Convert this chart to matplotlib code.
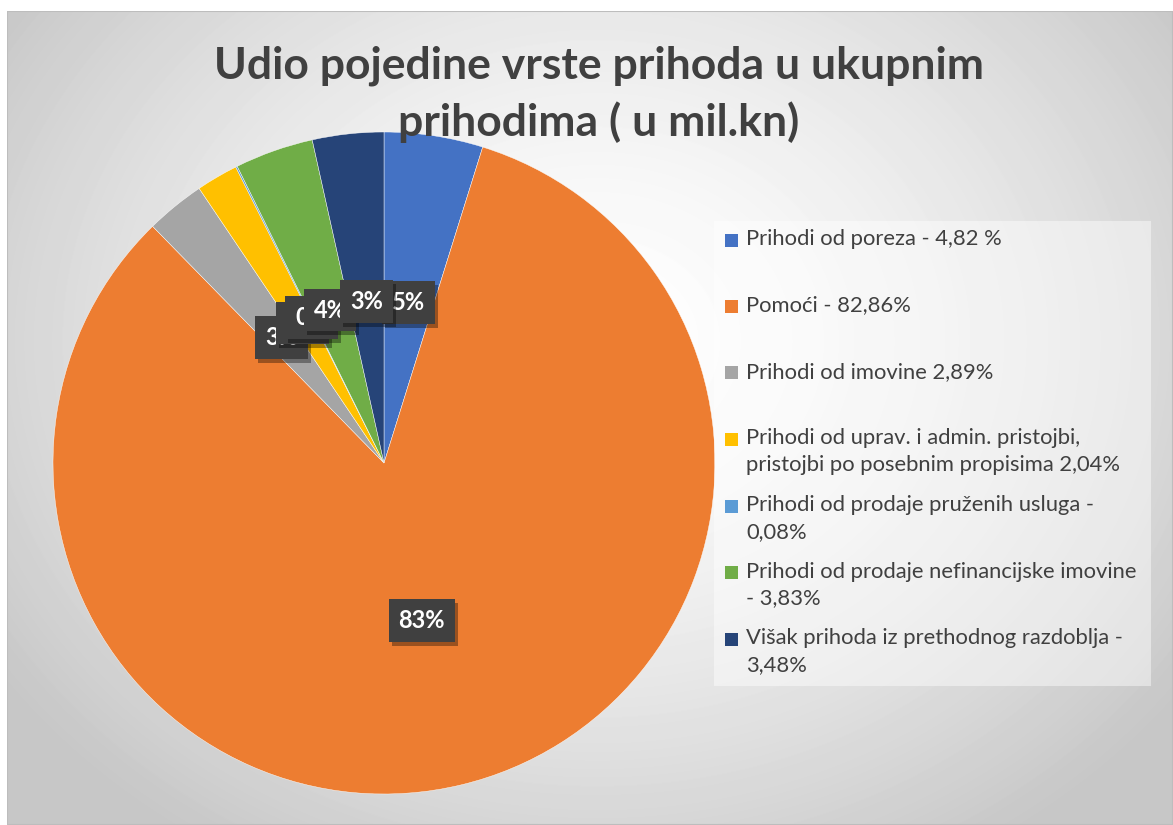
import matplotlib.pyplot as plt
import numpy as np
from matplotlib.patches import Rectangle
from matplotlib.transforms import offset_copy

plt.rcParams['font.family'] = ['Lato', 'DejaVu Sans']

##data
categories = ["Prihodi od poreza - 4,82 %",
              "Pomoći - 82,86%",
              "Prihodi od imovine 2,89%",
              "Prihodi od uprav. i admin. pristojbi,\npristojbi po posebnim propisima 2,04%",
              "Prihodi od prodaje pruženih usluga -\n0,08%",
              "Prihodi od prodaje nefinancijske imovine\n- 3,83%",
              "Višak prihoda iz prethodnog razdoblja -\n3,48%"]
shares = [4.82, 82.86, 2.89, 2.04, 0.08, 3.83, 3.48]
colors = ["#4472C4", "#ED7D31", "#A5A5A5", "#FFC000", "#5B9BD5", "#70AD47", "#264478"]
title = "Udio pojedine vrste prihoda u ukupnim\nprihodima ( u mil.kn)"

W, H = 1173, 825
fig = plt.figure(figsize=(W/100, H/100), dpi=100)
fig.patch.set_facecolor("white")

##----background: radial grey gradient over the chart area----
x0, y0 = 7, 11  ##chart area top-left in pixels
bg = fig.add_axes([x0/W, 0, 1 - x0/W, 1 - y0/H])
yy, xx = np.mgrid[0:H - y0, 0:W - x0]
d = np.sqrt(((xx - 590)/720.0)**2 + ((yy - 330)/600.0)**2)
grad = 1 - 0.22*np.clip(d, 0, 1)**1.5
bg.imshow(grad, cmap="gray", vmin=0, vmax=1, aspect="auto", interpolation="bilinear")
bg.set_axis_off()
bg.add_patch(Rectangle((0, 0), 1, 1, transform=bg.transAxes, fill=False, edgecolor="#bdbdbd", lw=1.5))

##----pie----
cx, cy, r = 384, 463, 331
ax = fig.add_axes([(cx - r)/W, (H - cy - r)/H, 2*r/W, 2*r/H])
ax.set_axis_off()
wedges, _, autotexts = ax.pie(shares, colors=colors, startangle=90, counterclock=False,
                              autopct="%.0f%%", pctdistance=0.49,
                              wedgeprops=dict(edgecolor="#ffffff", linewidth=0.3),
                              radius=1)
ax.set_xlim(-1, 1)
ax.set_ylim(-1, 1)

for i, t in enumerate(autotexts):
    x, y = t.get_position()
    ##shadow of the label box
    sh_tr = offset_copy(ax.transData, fig=fig, x=3, y=-4, units="dots")
    ax.text(x, y, t.get_text(), transform=sh_tr, ha="center", va="center", size=17,
            fontweight="bold", color="none", zorder=10 + 2*i,
            bbox=dict(boxstyle="square,pad=0.42", fc="black", ec="none", alpha=0.35))
    t.set(size=17, fontweight="bold", color="white", zorder=11 + 2*i,
          bbox=dict(boxstyle="square,pad=0.42", fc="#404040", ec="none"))

##----title----
fig.text(599/W, 1 - 94/H, title, ha="center", va="center", size=32, fontweight="bold",
         color="#404040", linespacing=1.45, zorder=20)

##----legend, evenly spaced like excel----
lx, ly, lw, lh = 714, 221, 437, 465
fig.patches.append(Rectangle((lx/W, 1 - (ly + lh)/H), lw/W, lh/H, transform=fig.transFigure,
                             facecolor="white", alpha=0.45, edgecolor="none", zorder=1))
for i, (lab, col) in enumerate(zip(categories, colors)):
    yc = 240 + i*66.5
    fig.patches.append(Rectangle((725/W, 1 - (yc + 6.5)/H), 13/W, 13/H, transform=fig.transFigure,
                                 facecolor=col, edgecolor="none", zorder=3))
    fig.text(746/W, 1 - (yc - 11)/H, lab, ha="left", va="top", size=15.8, color="#404040",
             linespacing=1.42, zorder=3)

fig.savefig("out.png", dpi=100)
